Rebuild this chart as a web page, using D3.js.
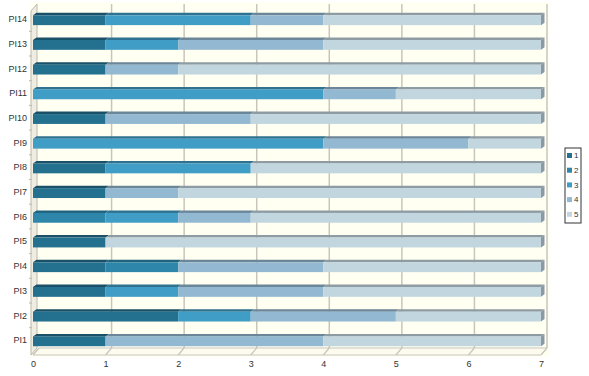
<!DOCTYPE html>
<html>
<head>
<meta charset="utf-8">
<script src="https://cdn.jsdelivr.net/npm/d3@7"></script>
<style>
    body { margin: 0; background: #fff; }
    svg { font-family: "Liberation Sans", Arial, sans-serif; }
</style>
</head>
<body>
<div id="chart"></div>
<script>
// PI1 .. PI14, counts per answer level 1..5
const categories = ['PI1', 'PI2', 'PI3', 'PI4', 'PI5', 'PI6', 'PI7', 'PI8', 'PI9', 'PI10', 'PI11', 'PI12', 'PI13', 'PI14'];
const levels = ['1', '2', '3', '4', '5'];
const s1 = [1, 2, 1, 1, 1, 0, 1, 1, 0, 1, 0, 1, 1, 1];
const s2 = [0, 0, 0, 1, 0, 1, 0, 0, 0, 0, 0, 0, 0, 0];
const s3 = [0, 1, 1, 0, 0, 1, 0, 2, 4, 0, 4, 0, 1, 2];
const s4 = [3, 2, 2, 2, 0, 1, 1, 0, 2, 2, 1, 1, 2, 1];
const s5 = [3, 2, 3, 3, 6, 4, 5, 4, 1, 4, 2, 5, 3, 3];
const xTicks = [0, 1, 2, 3, 4, 5, 6, 7];

const colors = ['#24708f', '#2e87ab', '#3f9dc6', '#93b9d2', '#c2d6e0'];
const width = 589, height = 376;

const series = [s1, s2, s3, s4, s5];
const rows = categories.map((c, i) => {
    const row = { cat: c };
    levels.forEach((l, j) => row[l] = series[j][i]);
    return row;
});
const stacked = d3.stack().keys(levels)(rows);

const svg = d3.select('#chart').append('svg')
    .attr('width', width)
    .attr('height', height);

const x = d3.scaleLinear().domain([0, 7]).range([33, 541]);
const y = d3.scaleBand()
    .domain(categories.slice().reverse())
    .range([6.6, 352.4])
    .paddingInner(0.5)
    .paddingOuter(0.25);

// 3D depth of the box and of the bars
const wallDx = 6, wallDy = -7;
const barDx = 3.5, barDy = 2.5;
const floorY = 355, topY = 4;

// cream background
svg.append('rect')
    .attr('x', 30).attr('y', 2)
    .attr('width', 520).attr('height', 355)
    .attr('fill', '#fffff2');

// gridlines on back wall
svg.append('g').selectAll('line')
    .data(xTicks.slice(1))
    .join('line')
    .attr('x1', d => x(d) + wallDx).attr('x2', d => x(d) + wallDx)
    .attr('y1', topY).attr('y2', floorY + wallDy)
    .attr('stroke', '#c9c5bd')
    .attr('stroke-width', 1.5);

// floor
svg.append('path')
    .attr('d', `M${x(0)},${floorY}L${x(0) + wallDx},${floorY + wallDy}L${x(7) + wallDx},${floorY + wallDy}L${x(7)},${floorY}Z`)
    .attr('fill', '#fdfbee')
    .attr('stroke', '#c9c5bd')
    .attr('stroke-width', 1);

// floor ticks
svg.append('g').selectAll('line')
    .data(xTicks)
    .join('line')
    .attr('x1', d => x(d)).attr('x2', d => x(d) + wallDx)
    .attr('y1', floorY).attr('y2', floorY + wallDy)
    .attr('stroke', '#c9c5bd')
    .attr('stroke-width', 1.2);

// left wall
svg.append('path')
    .attr('d', `M${x(0) - 2},${topY - wallDy}L${x(0) - 2 + wallDx},${topY}L${x(0) - 2 + wallDx},${floorY + wallDy}L${x(0) - 2},${floorY}Z`)
    .attr('fill', '#efede2')
    .attr('stroke', '#bdb9b0')
    .attr('stroke-width', 1);

// small ticks on left wall
svg.append('g').selectAll('line')
    .data(categories.slice(1))
    .join('line')
    .attr('x1', x(0) - 4).attr('x2', x(0) - 1)
    .attr('y1', d => y(d) + y.bandwidth() + y.step() * 0.25)
    .attr('y2', d => y(d) + y.bandwidth() + y.step() * 0.25)
    .attr('stroke', '#bdb9b0');

// bars
const bars = svg.append('g');
const bw = y.bandwidth();

stacked.forEach((layer, j) => {
    const g = bars.append('g');
    const segs = layer.filter(d => d[1] > d[0]);

    g.selectAll('path.top')
        .data(segs)
        .join('path')
        .attr('class', 'top')
        .attr('d', d => {
            const x0 = x(d[0]), x1 = x(d[1]), y0 = y(d.data.cat);
            return `M${x0},${y0 + barDy}L${x0 + barDx},${y0}L${x1 + barDx},${y0}L${x1},${y0 + barDy}Z`;
        })
        .attr('fill', d3.color(colors[j]).darker(0.9));

    g.selectAll('rect')
        .data(segs)
        .join('rect')
        .attr('x', d => x(d[0]))
        .attr('y', d => y(d.data.cat) + barDy)
        .attr('width', d => x(d[1]) - x(d[0]))
        .attr('height', bw - barDy)
        .attr('fill', colors[j]);
});

// right end faces
bars.append('g').selectAll('path')
    .data(rows)
    .join('path')
    .attr('d', d => {
        const total = levels.reduce((s, l) => s + d[l], 0);
        const x1 = x(total), y0 = y(d.cat);
        return `M${x1},${y0 + barDy}L${x1 + barDx},${y0}L${x1 + barDx},${y0 + bw - barDy}L${x1},${y0 + bw}Z`;
    })
    .attr('fill', '#8a99a4');

// axes
const xAxis = svg.append('g')
    .attr('transform', `translate(0, ${floorY + 2})`)
    .call(d3.axisBottom(x).tickValues(xTicks).tickSize(0).tickFormat(d3.format('d')));
xAxis.select('.domain').remove();
xAxis.selectAll('text')
    .attr('dy', '0.71em')
    .attr('y', 4)
    .style('font-size', '9px')
    .attr('fill', '#333');

const yAxis = svg.append('g')
    .attr('transform', `translate(27, 0)`)
    .call(d3.axisLeft(y).tickSize(0));
yAxis.select('.domain').remove();
yAxis.selectAll('text')
    .attr('x', 0)
    .attr('dy', '0.35em')
    .style('font-size', '9px')
    .attr('fill', '#333');

// legend
const legend = svg.append('g').attr('transform', 'translate(565, 148)');
legend.append('rect')
    .attr('width', 16).attr('height', 75)
    .attr('fill', '#fff')
    .attr('stroke', '#333')
    .attr('stroke-width', 1);

const item = legend.selectAll('g.item')
    .data(levels)
    .join('g')
    .attr('class', 'item')
    .attr('transform', (d, i) => `translate(2, ${5 + i * 14.7})`);

item.append('rect')
    .attr('width', 5).attr('height', 5)
    .attr('fill', (d, i) => colors[i]);

item.append('text')
    .attr('x', 7).attr('y', 2.5)
    .attr('dy', '0.35em')
    .style('font-size', '8px')
    .attr('fill', '#333')
    .text(d => d);
</script>
</body>
</html>
